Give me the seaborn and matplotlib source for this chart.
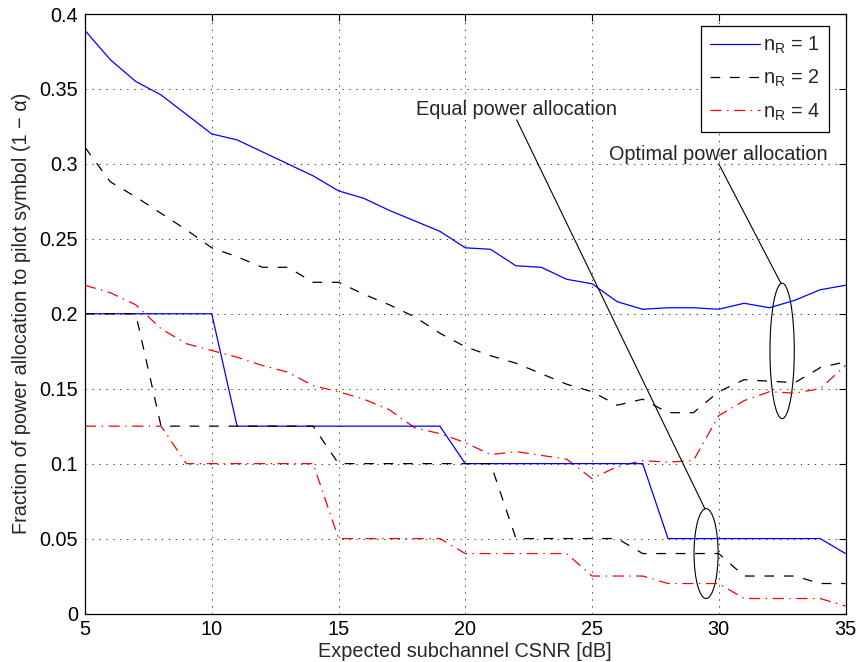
import numpy as np
import pandas as pd
import matplotlib
matplotlib.use("Agg")
import matplotlib.pyplot as plt
from matplotlib.patches import Ellipse
from matplotlib.lines import Line2D
import seaborn as sns

# Expected subchannel CSNR grid [dB]
snr_db = list(range(5, 36))

# Optimal power allocation (pilot fraction 1 - alpha)
opt_nr1 = [0.389, 0.3695, 0.355, 0.346, 0.333, 0.320, 0.316, 0.308, 0.300, 0.292,
           0.282, 0.277, 0.269, 0.262, 0.255, 0.244, 0.243, 0.232, 0.231, 0.223,
           0.220, 0.208, 0.203, 0.204, 0.204, 0.203, 0.207, 0.204, 0.209, 0.216,
           0.219]
opt_nr2 = [0.311, 0.288, 0.278, 0.267, 0.256, 0.244, 0.238, 0.231, 0.231, 0.221,
           0.221, 0.213, 0.206, 0.198, 0.187, 0.178, 0.172, 0.167, 0.160, 0.153,
           0.148, 0.139, 0.143, 0.134, 0.134, 0.148, 0.156, 0.155, 0.154, 0.164,
           0.168]
opt_nr4 = [0.219, 0.214, 0.206, 0.190, 0.180, 0.1755, 0.171, 0.1655, 0.161, 0.152,
           0.148, 0.143, 0.136, 0.124, 0.120, 0.114, 0.106, 0.108, 0.1055, 0.103,
           0.090, 0.098, 0.102, 0.101, 0.102, 0.132, 0.142, 0.148, 0.147, 0.150,
           0.1655]

# Equal power allocation (pilot fraction 1 - alpha)
eq_nr1 = [0.2] * 6 + [0.125] * 9 + [0.1] * 8 + [0.05] * 7 + [0.04]
eq_nr2 = [0.2] * 3 + [0.125] * 7 + [0.1] * 7 + [0.05] * 5 + [0.04] * 4 + [0.025] * 3 + [0.02] * 2
eq_nr4 = [0.125] * 4 + [0.1] * 6 + [0.05] * 5 + [0.04] * 5 + [0.025] * 3 + [0.02] * 3 + [0.01] * 4 + [0.005]

legend_labels = ["n$_\\mathregular{R}$ = 1", "n$_\\mathregular{R}$ = 2", "n$_\\mathregular{R}$ = 4"]

sns.set_theme(style="white")
plt.rcParams["font.family"] = ["Liberation Sans", "DejaVu Sans"]
plt.rcParams["mathtext.default"] = "regular"
plt.rcParams["lines.scale_dashes"] = False

FS = 14.3

solid = "-"
dashed = (0, (7, 7))
dashdot = (0, (8, 4, 1, 4))
styles = [("blue", solid), ("black", dashed), ("red", dashdot)]

fig = plt.figure(figsize=(8.58, 6.62), dpi=100)
ax = fig.add_axes([85 / 858, 1 - 613.5 / 662, 760.5 / 858, 599.5 / 662])

df = pd.DataFrame({"snr": snr_db,
                   "opt1": opt_nr1, "opt2": opt_nr2, "opt4": opt_nr4,
                   "eq1": eq_nr1, "eq2": eq_nr2, "eq4": eq_nr4})

for col, (c, ls) in zip(["opt1", "opt2", "opt4"], styles):
    sns.lineplot(data=df, x="snr", y=col, ax=ax, color=c, linestyle=ls,
                 lw=0.9, legend=False)
for col, (c, ls) in zip(["eq1", "eq2", "eq4"], styles):
    sns.lineplot(data=df, x="snr", y=col, ax=ax, color=c, linestyle=ls,
                 lw=0.9, legend=False)

ax.set_xlim(5, 35)
ax.set_ylim(0, 0.4)
ax.set_xticks(np.arange(5, 36, 5))
yt = np.round(np.arange(0, 0.401, 0.05), 2)
ax.set_yticks(yt)
ax.set_yticklabels([f"{v:g}" for v in yt])

ax.grid(True, color="0.25", linestyle=(0, (1, 4)), lw=0.7)
ax.tick_params(direction="in", length=5, width=0.8, top=True, right=True,
               labelsize=FS, pad=5, colors="black")
for s in ax.spines.values():
    s.set_color("black")
    s.set_linewidth(0.9)

ax.set_xlabel("Expected subchannel CSNR [dB]", fontsize=FS, labelpad=2)
ax.set_ylabel("Fraction of power allocation to pilot symbol (1 \u2212 \u03b1)", fontsize=FS, labelpad=6)

# Callouts marking the two groups of curves
ax.add_patch(Ellipse((29.5, 0.04), 0.95, 0.06, fill=False, ec="black", lw=0.8))
ax.plot([22.03, 29.45], [0.3293, 0.070], color="black", lw=0.8)
ax.text(22.02, 0.3327, "Equal power allocation", ha="center", va="baseline", fontsize=FS)

ax.add_patch(Ellipse((32.5, 0.1752), 0.96, 0.0904, fill=False, ec="black", lw=0.8))
ax.plot([30.0, 32.45], [0.300, 0.2204], color="black", lw=0.8)
ax.text(30.0, 0.3027, "Optimal power allocation", ha="center", va="baseline", fontsize=FS)

handles = [Line2D([], [], color=c, linestyle=ls, lw=0.9) for c, ls in styles]
leg = ax.legend(handles, legend_labels, loc="upper right",
                bbox_to_anchor=((829 - 85) / 760.5, (613.5 - 26) / 599.5),
                borderaxespad=0, fontsize=FS, handlelength=2.5, handletextpad=0.15,
                labelspacing=0.6, borderpad=0.45, fancybox=False, frameon=True)
leg.get_frame().set_edgecolor("black")
leg.get_frame().set_linewidth(0.9)
leg.get_frame().set_alpha(1)

fig.savefig("out.png", dpi=100, facecolor="white")
